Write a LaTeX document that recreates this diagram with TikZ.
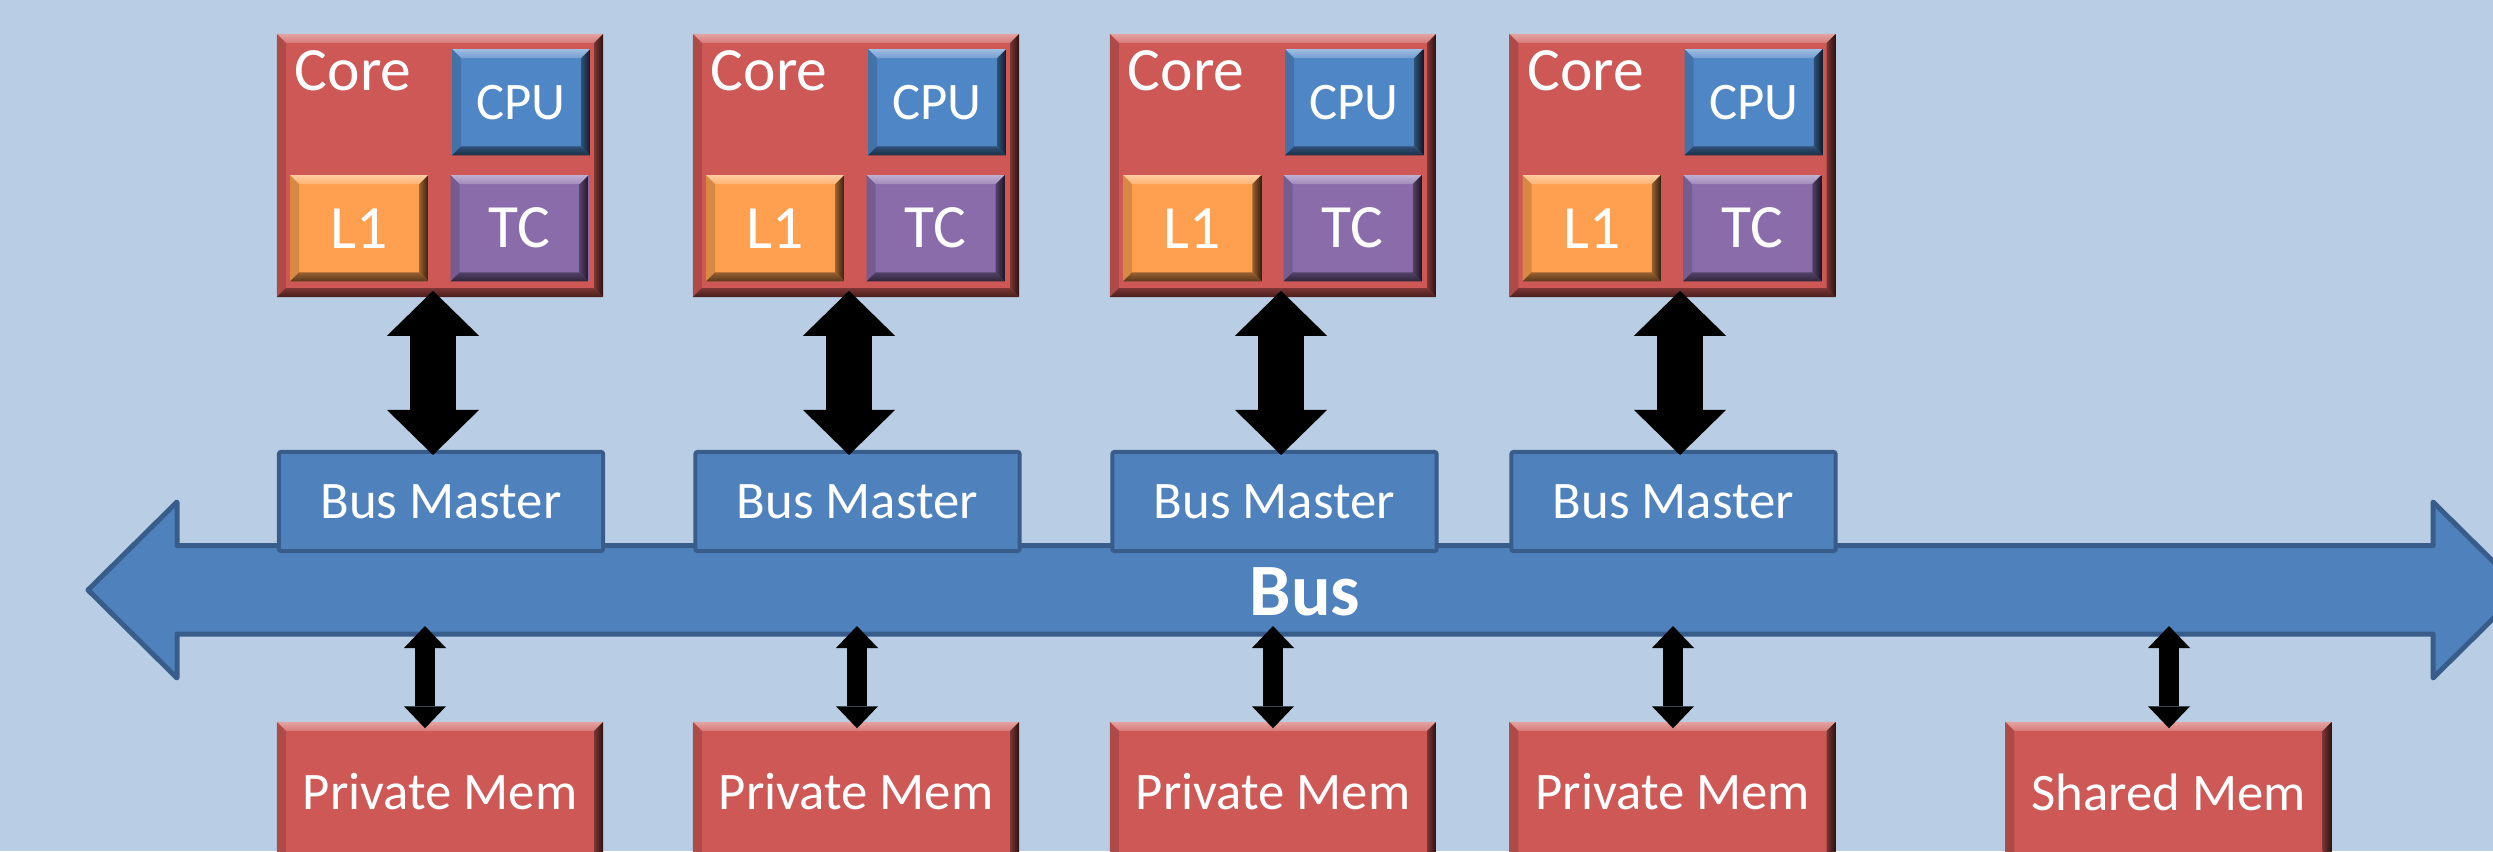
\documentclass[tikz,border=0pt]{standalone}
\usepackage{fontspec}
\setmainfont{Carlito}
\usetikzlibrary{arrows.meta,calc}
\definecolor{bgc}{HTML}{B9CDE5}
\definecolor{cred}{HTML}{CD5856}
\definecolor{ccpu}{HTML}{4F86C6}
\definecolor{cora}{HTML}{FFA050}
\definecolor{cpur}{HTML}{8A6CAA}
\definecolor{cbus}{HTML}{4F81BD}
\definecolor{cbusd}{HTML}{385D8A}
\newcommand{\bevw}{0.09cm}
\tikzset{
  bev/.style={fill=#1, draw=none, inner sep=0pt, text=white,
    path picture={
      \path (path picture bounding box.north west) coordinate (pNW)
            (path picture bounding box.north east) coordinate (pNE)
            (path picture bounding box.south west) coordinate (pSW)
            (path picture bounding box.south east) coordinate (pSE);
      \shade[top color=#1!55!white, bottom color=#1!80!white]
        (pNW) -- (pNE) -- ([shift={(-\bevw,-\bevw)}]pNE) -- ([shift={(\bevw,-\bevw)}]pNW) -- cycle;
      \fill[#1!85!black]
        (pNW) -- ([shift={(\bevw,-\bevw)}]pNW) -- ([shift={(\bevw,\bevw)}]pSW) -- (pSW) -- cycle;
      \shade[left color=#1!60!black, right color=#1!20!black]
        (pNE) -- (pSE) -- ([shift={(-\bevw,\bevw)}]pSE) -- ([shift={(-\bevw,-\bevw)}]pNE) -- cycle;
      \shade[top color=#1!60!black, bottom color=#1!35!black]
        (pSW) -- (pSE) -- ([shift={(-\bevw,\bevw)}]pSE) -- ([shift={(\bevw,\bevw)}]pSW) -- cycle;
    }},
  corebox/.style={bev=cred, minimum width=3.26cm, minimum height=2.63cm},
  smallbox/.style={bev=#1, minimum width=1.38cm, minimum height=1.06cm},
  membox/.style={bev=cred, minimum width=3.26cm, minimum height=1.40cm,
    font=\fontsize{15}{18}\selectfont},
  bmbox/.style={fill=cbus, draw=cbusd, line width=0.04cm, rounded corners=0.02cm,
    minimum width=3.24cm, minimum height=0.99cm, inner sep=0pt, text=white,
    font=\fontsize{15}{18}\selectfont},
  bigfont/.style={font=\fontsize{17.5}{21}\selectfont},
  busline/.style={fill=cbus, draw=cbusd, line width=0.05cm, line join=round},
  bigarr/.style={line width=0.46cm, black,
    {Triangle[width=0.92cm,length=0.45cm,line width=0pt]}-{Triangle[width=0.92cm,length=0.45cm,line width=0pt]}},
  smallarr/.style={line width=0.20cm, black,
    {Triangle[width=0.42cm,length=0.22cm,line width=0pt]}-{Triangle[width=0.42cm,length=0.22cm,line width=0pt]}},
}
\begin{document}
\begin{tikzpicture}[x=0.01cm, y=-0.01cm]
\fill[bgc] (0,0) rectangle (2493,851);
\useasboundingbox (0,0) rectangle (2493,851);
\clip (0,0) rectangle (2493,851);

% bus
\draw[busline] (88,590) -- (177,502) -- (177,545.5) -- (2433,545.5) -- (2433,502)
  -- (2522,590) -- (2433,678) -- (2433,634) -- (177,634) -- (177,678) -- cycle;
\node[text=white, font=\bfseries\fontsize{21}{25}\selectfont] (buslbl) at (1305,592) {Bus};

% bus masters
\foreach \i/\x in {1/441,2/857.5,3/1274.5,4/1673.5}
  \node[bmbox] (bm\i) at (\x,501.5) {Bus Master};

% cores
\foreach \i/\x in {1/440,2/856,3/1273,4/1672.5}{
  \node[corebox] (core\i) at (\x,165.5) {};
  \node[text=white, bigfont, anchor=base west, inner sep=0pt] (corelbl\i)
    at ($(core\i.north west)+(18,57)$) {Core};
  \node[smallbox=ccpu, font=\fontsize{15}{18}\selectfont] (cpu\i)
    at ($(core\i.north west)+(245,69)$) {CPU};
  \node[smallbox=cora, bigfont] (lone\i) at ($(core\i.north west)+(83,195)$) {L1};
  \node[smallbox=cpur, bigfont] (tc\i) at ($(core\i.north west)+(243.5,195)$) {TC};
}

% memories
\foreach \i/\x in {1/440,2/856,3/1273,4/1672.5}
  \node[membox] (mem\i) at (\x,792) {Private Mem};
\node[membox] (mem5) at (2168.5,792) {Shared Mem};

% core <-> bus master arrows
\foreach \i/\x in {1/433,2/849,3/1281,4/1680}{
  \coordinate (ax\i) at (\x,0);
  \draw[bigarr] ($(ax\i |- core\i.south)+(0,-7)$) -- ($(ax\i |- bm\i.north)+(0,5)$);
}

% bus <-> memory arrows
\foreach \i/\x in {1/425,2/857,3/1273,4/1673,5/2169}{
  \coordinate (mx\i) at (\x,626);
  \draw[smallarr] (mx\i) -- ($(mx\i |- mem\i.north)+(0,7)$);
}
\end{tikzpicture}
\end{document}
